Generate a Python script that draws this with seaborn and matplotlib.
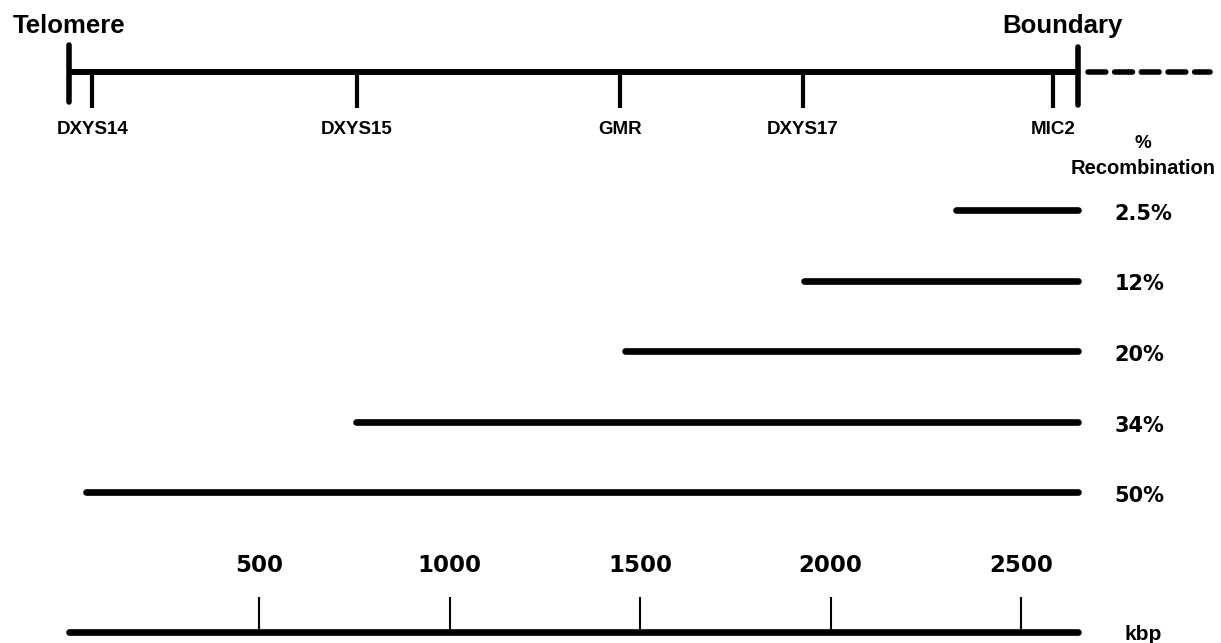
import pandas as pd
import matplotlib.pyplot as plt
import seaborn as sns

# Physical map of the pseudoautosomal region (positions in kbp from the telomere)
telomere_kbp = 0
boundary_kbp = 2650
marker_names = ["DXYS14", "DXYS15", "GMR", "DXYS17", "MIC2"]
marker_kbp = [62, 757, 1447, 1928, 2584]

# Recombination intervals, all running up to the boundary
recomb_labels = ["2.5%", "12%", "20%", "34%", "50%"]
recomb_start = [2330, 1930, 1460, 755, 45]
recomb_end = [2650, 2650, 2650, 2650, 2650]

# Scale bar
scale_ticks = [500, 1000, 1500, 2000, 2500]
scale_labels = ["500", "1000", "1500", "2000", "2500"]

# layout (vertical positions in pixel rows, top = 0)
map_y = 72
row_y0, row_step = 210, 70.5
scale_y = 632

sns.set_theme(style="white")
plt.rcParams['font.family'] = ['Liberation Sans', 'DejaVu Sans']
plt.rcParams['font.weight'] = 'bold'
plt.rcParams['text.color'] = 'black'

fig = plt.figure(figsize=(12.21, 6.43), dpi=100)
ax = fig.add_axes([0, 0, 1, 1])

# top map line, telomere / boundary ticks and dashed continuation
ax.plot([telomere_kbp, boundary_kbp], [map_y, map_y], color='black', lw=4.3, solid_capstyle='butt')
ax.vlines([telomere_kbp], 45, 102, color='black', lw=4, capstyle='round')
ax.vlines([boundary_kbp], 47, 105, color='black', lw=4, capstyle='round')
ax.plot([boundary_kbp + 27, boundary_kbp + 345], [map_y, map_y], color='black', lw=4,
        linestyle=(0, (3.2, 1.6)), dash_capstyle='round')
ax.vlines(marker_kbp, map_y, 108, color='black', lw=3)
for name, pos in zip(marker_names, marker_kbp):
    ax.text(pos, 129, name, ha='center', va='center', fontsize=13.5)

ax.text(telomere_kbp, 26, "Telomere", ha='center', va='center', fontsize=18.5)
ax.text(boundary_kbp - 40, 26, "Boundary", ha='center', va='center', fontsize=18.5)

# recombination intervals
rows = []
for i, (lab, s, e) in enumerate(zip(recomb_labels, recomb_start, recomb_end)):
    y = row_y0 + row_step * i
    rows.append({"label": lab, "kbp": s, "y": y})
    rows.append({"label": lab, "kbp": e, "y": y})
recomb_df = pd.DataFrame(rows)
sns.lineplot(data=recomb_df, x="kbp", y="y", units="label", estimator=None, sort=False,
             color='black', lw=4.8, legend=False, ax=ax)
for line in ax.lines[-len(recomb_labels):]:
    line.set_solid_capstyle('round')

label_x = boundary_kbp + 95
for i, lab in enumerate(recomb_labels):
    ax.text(label_x, row_y0 + row_step * i + 4, lab, ha='left', va='center', fontsize=15,
            family=['DejaVu Sans'])
ax.text(boundary_kbp + 170, 143, "%", ha='center', va='center', fontsize=13.5)
ax.text(boundary_kbp + 170, 168, "Recombination", ha='center', va='center', fontsize=14.5)

# kbp scale bar
ax.plot([0, boundary_kbp], [scale_y, scale_y], color='black', lw=4.8, solid_capstyle='round')
ax.vlines(scale_ticks, 597, scale_y, color='black', lw=1.5)
for t, lab in zip(scale_ticks, scale_labels):
    ax.text(t, 566, lab, ha='center', va='center', fontsize=16.5, family=['DejaVu Sans'])
ax.text(boundary_kbp + 170, 634, "kbp", ha='center', va='center', fontsize=15)

ax.set_xlim(-180, 3025)
ax.set_ylim(643, 0)
ax.axis('off')

plt.savefig('out.png', dpi=100)
